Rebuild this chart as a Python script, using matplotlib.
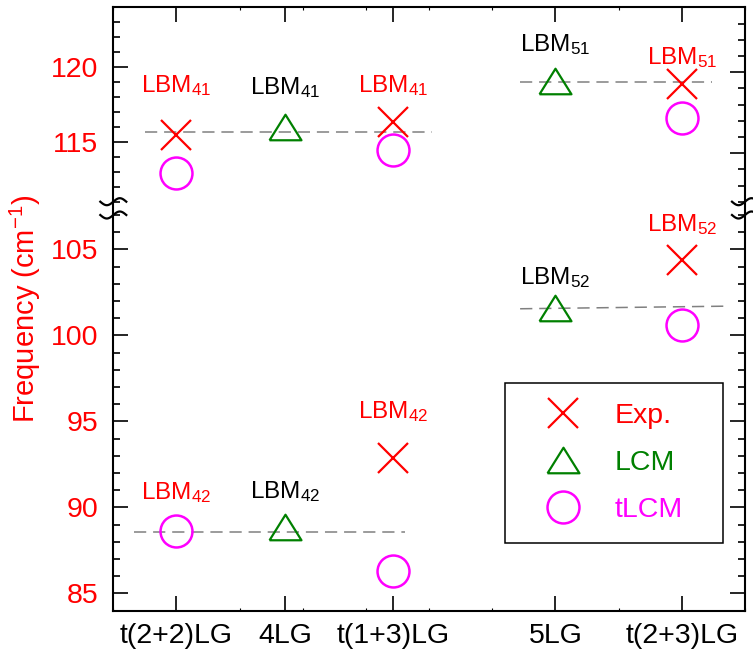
import numpy as np
import matplotlib
matplotlib.use("Agg")
import matplotlib.pyplot as plt
from matplotlib.ticker import MultipleLocator, FixedLocator
from matplotlib.lines import Line2D

plt.rcParams['font.family'] = ['Liberation Sans', 'DejaVu Sans']
plt.rcParams['mathtext.default'] = 'regular'

# sample positions on the x axis and their names
x_pos = [1.0, 2.72, 4.43, 7.0, 9.0]
samples = ['t(2+2)LG', '4LG', 't(1+3)LG', '5LG', 't(2+3)LG']

nan = np.nan
# upper branch (LBM41 / LBM51) and lower branch (LBM42 / LBM52), cm^-1
exp_hi = [115.45, nan, 116.3, nan, 118.9]
exp_lo = [nan, nan, 92.9, nan, 104.4]
lcm_hi = [nan, 116.0, nan, 119.05, nan]
lcm_lo = [nan, 88.85, nan, 101.6, nan]
tlcm_hi = [112.9, nan, 114.45, nan, 116.57]
tlcm_lo = [88.65, nan, 86.3, nan, 100.6]

# dashed guide lines: (x0, x1, y0, y1)
guides_hi = [(0.5, 5.04, 115.67, 115.67), (6.44, 9.47, 119.0, 119.0)]
guides_lo = [(0.33, 4.62, 88.55, 88.55), (6.44, 9.68, 101.55, 101.7)]

# mode labels: (x, y, text, colour)
labels_hi = [(1.0, 118.3, r'LBM$_{41}$', 'red'),
             (2.72, 118.2, r'LBM$_{41}$', 'black'),
             (4.43, 118.3, r'LBM$_{41}$', 'red'),
             (7.0, 121.07, r'LBM$_{51}$', 'black'),
             (9.0, 120.23, r'LBM$_{51}$', 'red')]
labels_lo = [(1.0, 90.48, r'LBM$_{42}$', 'red'),
             (2.72, 90.54, r'LBM$_{42}$', 'black'),
             (4.43, 95.19, r'LBM$_{42}$', 'red'),
             (7.0, 102.97, r'LBM$_{52}$', 'black'),
             (9.0, 106.06, r'LBM$_{52}$', 'red')]

W, H = 753, 656
fig = plt.figure(figsize=(W / 100, H / 100), dpi=100)

left_px, right_px = 113.3, 745.0
top_px, brk1_px, brk2_px, bot_px = 7.3, 201.7, 215.0, 610.7


def frac_rect(y_top, y_bot):
    return [left_px / W, 1 - y_bot / H, (right_px - left_px) / W, (y_bot - y_top) / H]


ax_top = fig.add_axes(frac_rect(top_px, brk1_px))
ax_bot = fig.add_axes(frac_rect(brk2_px, bot_px))
ax_tr = ax_top.twinx()

tri = [(-1, -0.8), (1, -0.8), (0, 0.8), (-1, -0.8)]
mk_exp = dict(marker='x', ms=21, mew=1.6, color='red', ls='none')
mk_lcm = dict(marker=tri, ms=23, mew=1.6, mec='green', mfc='none', ls='none')
mk_tlcm = dict(marker='o', ms=23, mew=1.8, mec='magenta', mfc='none', ls='none')
dash = dict(color='#808080', lw=1.1, dashes=(8, 4.5), zorder=1)

for ax, e, l, t, guides, labels in [(ax_top, exp_hi, lcm_hi, tlcm_hi, guides_hi, labels_hi),
                                    (ax_bot, exp_lo, lcm_lo, tlcm_lo, guides_lo, labels_lo)]:
    for x0, x1, y0, y1 in guides:
        ax.plot([x0, x1], [y0, y1], **dash)
    ax.plot(x_pos, e, label='Exp.', **mk_exp)
    ax.plot(x_pos, l, label='LCM', **mk_lcm)
    ax.plot(x_pos, t, label='tLCM', **mk_tlcm)
    for x, y, s, c in labels:
        ax.text(x, y, s, color=c, fontsize=17.5, ha='center', va='baseline')
    ax.set_xlim(0, 10)
    ax.xaxis.set_major_locator(FixedLocator(x_pos))
    ax.xaxis.set_minor_locator(MultipleLocator(1))
    ax.yaxis.set_major_locator(MultipleLocator(5))
    ax.yaxis.set_minor_locator(MultipleLocator(1))
    for s in ax.spines.values():
        s.set_linewidth(1.5)
    ax.tick_params(which='major', direction='in', length=10.5, width=1.2)
    ax.tick_params(which='minor', direction='in', length=5, width=1.2)
    ax.tick_params(axis='x', which='minor', length=2, width=0.8)
    ax.tick_params(axis='y', labelsize=20.5, labelcolor='red', pad=11)
    ax.tick_params(axis='x', labelsize=20.5, pad=9)

ax_top.set_ylim(111, 124)
ax_top.spines['bottom'].set_visible(False)
ax_top.tick_params(axis='x', which='both', bottom=False, top=True, labelbottom=False)
ax_top.tick_params(axis='y', which='both', right=False)

ax_tr.set_ylim(112, 124)
ax_tr.yaxis.set_major_locator(MultipleLocator(5))
ax_tr.yaxis.set_minor_locator(MultipleLocator(1))
ax_tr.tick_params(which='major', direction='in', length=10.5, width=1.2, labelright=False)
ax_tr.tick_params(which='minor', direction='in', length=5, width=1.2)
for s in ax_tr.spines.values():
    s.set_visible(False)

ax_bot.set_ylim(84, 107)
ax_bot.spines['top'].set_visible(False)
ax_bot.set_xticklabels(samples)
ax_bot.tick_params(axis='x', which='both', top=False)
ax_bot.tick_params(axis='y', which='both', right=True)


def px_line(xs, ys, **kw):
    fig.add_artist(Line2D(np.asarray(xs) / W, 1 - np.asarray(ys) / H,
                          transform=fig.transFigure, color='black', **kw))


# spine pieces across the break and the wavy break marks
for xp in (left_px, right_px):
    px_line([xp, xp], [brk1_px, brk2_px], lw=1.5)
    for yp in (brk1_px, brk2_px):
        dx = np.linspace(-13, 13, 40)
        px_line(xp + dx, yp - 3.5 * np.sin(np.pi * dx / 13), lw=1.6)

fig.text(25 / W, 1 - 309 / H, 'Frequency (cm$^{-1}$)', rotation=90,
         color='red', fontsize=21, ha='center', va='center')

leg = ax_bot.legend(loc='upper left', bbox_to_anchor=(505 / W, 1 - 383.3 / H, (723.3 - 505) / W, 0),
                    bbox_transform=fig.transFigure, mode='expand', borderaxespad=0,
                    fontsize=20.5, frameon=True, fancybox=False, framealpha=1,
                    edgecolor='black', borderpad=0.7, labelspacing=0.73,
                    handlelength=2.7, handletextpad=0.45)
leg.get_frame().set_linewidth(1.1)
for txt, c in zip(leg.get_texts(), ['red', 'green', 'magenta']):
    txt.set_color(c)

fig.savefig('out.png', dpi=100)
